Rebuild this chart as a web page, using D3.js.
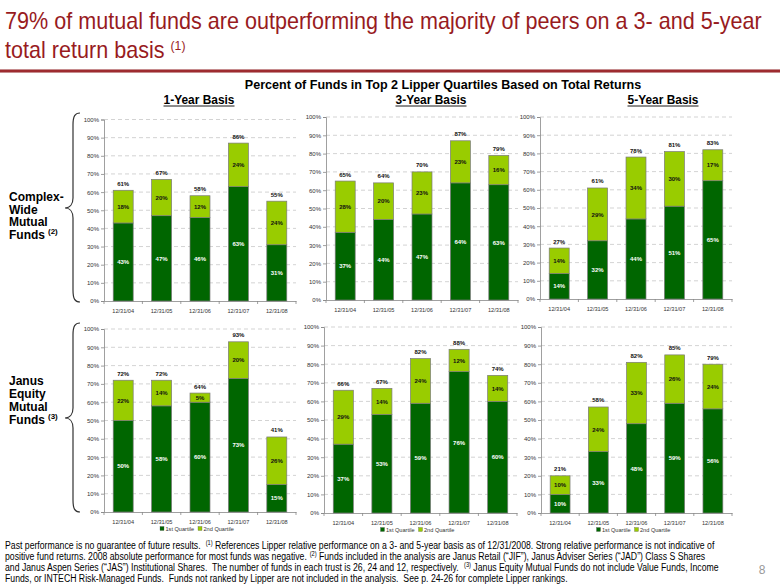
<!DOCTYPE html>
<html><head><meta charset="utf-8">
<script src="https://cdn.jsdelivr.net/npm/d3@7"></script>
<style>
html,body{margin:0;padding:0;background:#fff;}
svg text{white-space:pre;}
</style></head>
<body>
<svg id="c" width="780" height="585"></svg>
<script>
// ---------- data ----------
const categories = ["12/31/04","12/31/05","12/31/06","12/31/07","12/31/08"];
const yTicks = [0,10,20,30,40,50,60,70,80,90,100];
const seriesNames = ["1st Quartile","2nd Quartile"];
const basisLabels = ["1-Year Basis","3-Year Basis","5-Year Basis"];

// Complex-wide mutual funds
const complex1yQ1 = [43,47,46,63,31];
const complex1yQ2 = [18,20,12,24,24];
const complex1yTotal = [61,67,58,86,55];
const complex3yQ1 = [37,44,47,64,63];
const complex3yQ2 = [28,20,23,23,16];
const complex3yTotal = [65,64,70,87,79];
const complex5yQ1 = [14,32,44,51,65];
const complex5yQ2 = [14,29,34,30,17];
const complex5yTotal = [27,61,78,81,83];
// Janus equity mutual funds
const equity1yQ1 = [50,58,60,73,15];
const equity1yQ2 = [22,14,5,20,26];
const equity1yTotal = [72,72,64,93,41];
const equity3yQ1 = [37,53,59,76,60];
const equity3yQ2 = [29,14,24,12,14];
const equity3yTotal = [66,67,82,88,74];
const equity5yQ1 = [10,33,48,59,56];
const equity5yQ2 = [10,24,33,26,24];
const equity5yTotal = [21,58,82,85,79];

// ---------- styles ----------
const C1 = "#006600", C2 = "#99CC00", RED = "#981B1E";
const NARROW = "'Liberation Sans Narrow','Arial Narrow','Liberation Sans',Arial,sans-serif";
const SANS = "'Liberation Sans',Arial,sans-serif";

const svg = d3.select("#c");

// helper: a run of text pieces laid out side by side, each its own <text>
function runLine(parent, parts, y, size, supSize, supShift) {
  let x = 0;
  parts.forEach(([s, sup]) => {
    const t = parent.append("text").attr("x", x).attr("y", sup ? y - supShift : y)
      .attr("font-size", sup ? supSize : size).text(s);
    x += t.node().getComputedTextLength();
  });
  return x;
}

// ---------- title ----------
const titleG = svg.append("g").attr("font-family", NARROW).attr("fill", RED);
{
  const w1 = runLine(titleG, [["79% of mutual funds are outperforming the majority of peers on a 3- and 5-year", 0]], 29, 23, 13, 8);
  runLine(titleG, [["total return basis ", 0], ["(1)", 1]], 58, 23, 13, 8);
  titleG.attr("transform", `translate(5,0) scale(${757 / w1},1)`);
}
svg.append("rect").attr("x", 0).attr("y", 69.5).attr("width", 780).attr("height", 3).attr("fill", "#8E1A1E");
svg.append("line").attr("x1", 0).attr("x2", 780).attr("y1", 71).attr("y2", 71).attr("stroke", "#B8474B").attr("stroke-width", 0.8);

// ---------- subtitle ----------
function fitCentered(str, cx, y, size, width) {
  const g = svg.append("g").attr("font-family", NARROW).attr("font-weight", "bold").attr("fill", "#000");
  const t = g.append("text").attr("x", 0).attr("y", y).attr("text-anchor", "middle").attr("font-size", size).text(str);
  const w = t.node().getComputedTextLength();
  g.attr("transform", `translate(${cx},0) scale(${width / w},1)`);
}
fitCentered("Percent of Funds in Top 2 Lipper Quartiles Based on Total Returns", 443, 89, 13, 397);

const basisX = [199, 431, 663];
basisLabels.forEach((b, i) => {
  fitCentered(b, basisX[i], 104, 12, 71);
  svg.append("line").attr("x1", basisX[i] - 35.5).attr("x2", basisX[i] + 35.5)
    .attr("y1", 106).attr("y2", 106).attr("stroke", "#000").attr("stroke-width", 0.9);
});

// ---------- row labels with braces ----------
function rowLabel(lines, sup, y0, step, by0, bym, by1) {
  const g = svg.append("g").attr("font-family", SANS).attr("font-weight", "bold").attr("font-size", 12).attr("fill", "#000");
  lines.forEach((l, i) => {
    const t = g.append("text").attr("x", 9).attr("y", y0 + i * step).text(l);
    if (i === lines.length - 1) {
      const w = t.node().getComputedTextLength();
      g.append("text").attr("x", 9 + w + 3).attr("y", y0 + i * step - 5).attr("font-size", 8).text(sup);
    }
  });
  const p = `M80,${by0} C75,${by0} 73,${by0+3} 73,${by0+12} L73,${bym-10} C73,${bym-4} 70,${bym} 65,${bym} C70,${bym} 73,${bym+4} 73,${bym+10} L73,${by1-12} C73,${by1-3} 75,${by1} 80,${by1}`;
  svg.append("path").attr("d", p).attr("fill", "none").attr("stroke", "#333").attr("stroke-width", 1.2);
}
rowLabel(["Complex-", "Wide", "Mutual", "Funds"], "(2)", 201, 12.6, 113, 208, 302);
rowLabel(["Janus", "Equity", "Mutual", "Funds"], "(3)", 385, 13, 323, 418, 512);

// ---------- panels ----------
const panels = [
  {q1: complex1yQ1, q2: complex1yQ2, tot: complex1yTotal, x0: 104, x1: 296, yT: 119.5, yB: 301, legend: false},
  {q1: complex3yQ1, q2: complex3yQ2, tot: complex3yTotal, x0: 326, x1: 518, yT: 117, yB: 300, legend: false},
  {q1: complex5yQ1, q2: complex5yQ2, tot: complex5yTotal, x0: 540, x1: 732, yT: 117, yB: 299, legend: false},
  {q1: equity1yQ1, q2: equity1yQ2, tot: equity1yTotal, x0: 104, x1: 296, yT: 329, yB: 512, legend: true},
  {q1: equity3yQ1, q2: equity3yQ2, tot: equity3yTotal, x0: 324, x1: 517, yT: 327, yB: 513, legend: true},
  {q1: equity5yQ1, q2: equity5yQ2, tot: equity5yTotal, x0: 541, x1: 732, yT: 327, yB: 513, legend: true}
];

panels.forEach(P => {
  const g = svg.append("g");
  const x = d3.scaleBand().domain(categories).range([P.x0, P.x1]).paddingInner(0.48).paddingOuter(0.24);
  const y = d3.scaleLinear().domain([0, 100]).range([P.yB, P.yT]);

  // gridlines
  g.append("g").selectAll("line").data(yTicks.filter(v => v > 0)).join("line")
    .attr("x1", P.x0).attr("x2", P.x1).attr("y1", d => y(d)).attr("y2", d => y(d))
    .attr("stroke", "#C8C8C8").attr("stroke-width", 0.8).attr("stroke-dasharray", "4,3");

  // y axis
  const ya = g.append("g").attr("transform", `translate(${P.x0},0)`)
    .call(d3.axisLeft(y).tickValues(yTicks).tickFormat(d => d + "%").tickSize(3).tickPadding(2));
  ya.select(".domain").attr("stroke", "#888").attr("stroke-width", 0.8);
  ya.selectAll(".tick line").attr("stroke", "#888").attr("stroke-width", 0.8);
  ya.selectAll(".tick text").attr("font-family", SANS).attr("font-size", 6).attr("fill", "#333");

  // x axis
  const xa = g.append("g").attr("transform", `translate(0,${P.yB})`)
    .call(d3.axisBottom(x).tickSize(0).tickPadding(8));
  xa.select(".domain").attr("stroke", "#888").attr("stroke-width", 0.8);
  xa.selectAll(".tick text").attr("font-family", SANS).attr("font-size", 5.6).attr("fill", "#333");
  const bounds = d3.range(categories.length + 1).map(i => P.x0 + i * (P.x1 - P.x0) / categories.length);
  g.append("g").selectAll("line").data(bounds).join("line")
    .attr("x1", d => d).attr("x2", d => d).attr("y1", P.yB).attr("y2", P.yB + 3)
    .attr("stroke", "#888").attr("stroke-width", 0.8);

  const rows = categories.map((c, i) => ({c, q1: P.q1[i], q2: P.q2[i], tot: P.tot[i]}));
  // bars
  const bw = x.bandwidth();
  g.append("g").selectAll("rect").data(rows).join("rect")
    .attr("x", d => x(d.c)).attr("width", bw)
    .attr("y", d => y(d.q1)).attr("height", d => y(0) - y(d.q1))
    .attr("fill", C1).attr("stroke", "#7a7a7a").attr("stroke-width", 0.7);
  g.append("g").selectAll("rect").data(rows).join("rect")
    .attr("x", d => x(d.c)).attr("width", bw)
    .attr("y", d => y(d.q1 + d.q2)).attr("height", d => y(d.q1) - y(d.q1 + d.q2))
    .attr("fill", C2).attr("stroke", "#7a7a7a").attr("stroke-width", 0.7);

  const lab = g.append("g").attr("font-family", SANS).attr("font-weight", "bold").attr("font-size", 6).attr("text-anchor", "middle");
  lab.selectAll("text.a").data(rows).join("text").attr("class", "a")
    .attr("x", d => x(d.c) + bw / 2).attr("y", d => y(d.q1 / 2) + 2.2)
    .attr("fill", "#fff").text(d => d.q1 + "%");
  lab.selectAll("text.b").data(rows).join("text").attr("class", "b")
    .attr("x", d => x(d.c) + bw / 2).attr("y", d => y(d.q1 + d.q2 / 2) + 2.2)
    .attr("fill", "#111").text(d => d.q2 + "%");
  lab.selectAll("text.t").data(rows).join("text").attr("class", "t")
    .attr("x", d => x(d.c) + bw / 2).attr("y", d => y(d.q1 + d.q2) - 4.5)
    .attr("fill", "#111").text(d => d.tot + "%");

  if (P.legend) {
    const cx = (P.x0 + P.x1) / 2 - 2;
    const lg = g.append("g").attr("font-family", SANS).attr("font-size", 5.6).attr("fill", "#333");
    const items = [{n: seriesNames[0], c: C1, dx: -38}, {n: seriesNames[1], c: C2, dx: 0}];
    items.forEach(it => {
      lg.append("rect").attr("x", cx + it.dx).attr("y", P.yB + 14.5).attr("width", 4).attr("height", 4)
        .attr("fill", it.c).attr("stroke", "#555").attr("stroke-width", 0.3);
      lg.append("text").attr("x", cx + it.dx + 5.5).attr("y", P.yB + 18.5).text(it.n);
    });
  }
});

// ---------- footnote ----------
const fnLines = [
  [["Past performance is no guarantee of future results.  ", 0], ["(1)", 1], [" References Lipper relative performance on a 3- and 5-year basis as of 12/31/2008. Strong relative performance is not indicative of", 0]],
  [["positive fund returns. 2008 absolute performance for most funds was negative. ", 0], ["(2)", 1], [" Funds included in the analysis are Janus Retail (\u201CJIF\u201D), Janus Adviser Series (\u201CJAD\u201D) Class S Shares", 0]],
  [["and Janus Aspen Series (\u201CJAS\u201D) Institutional Shares.  The number of funds in each trust is 26, 24 and 12, respectively.  ", 0], ["(3)", 1], [" Janus Equity Mutual Funds do not include Value Funds, Income", 0]],
  [["Funds, or INTECH Risk-Managed Funds.  Funds not ranked by Lipper are not included in the analysis.  See p. 24-26 for complete Lipper rankings.", 0]]
];
const fnG = svg.append("g").attr("font-family", NARROW).attr("fill", "#000");
const fnW = fnLines.map((parts, i) => runLine(fnG, parts, 549 + i * 11, 10, 6.5, 3.5));
fnG.attr("transform", `translate(5,0) scale(${710 / fnW[0]},1)`);

svg.append("text").attr("x", 762).attr("y", 574).attr("text-anchor", "middle")
  .attr("font-family", SANS).attr("font-size", 12).attr("fill", "#999").text("8");
</script>
</body></html>
